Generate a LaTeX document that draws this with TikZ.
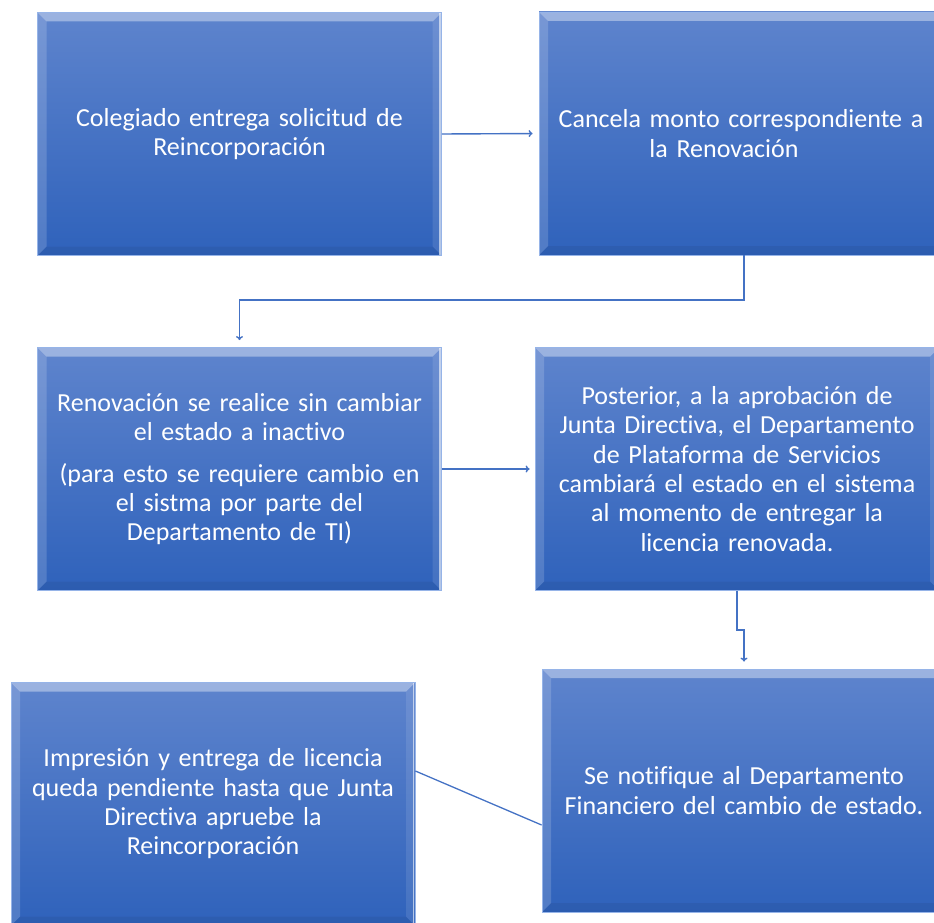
\documentclass[tikz,border=0pt]{standalone}
\usepackage{fontspec}
\setmainfont{Carlito}[Ligatures=NoCommon]
\usetikzlibrary{arrows.meta}
\definecolor{connc}{RGB}{68,114,196}
\definecolor{boxtop}{RGB}{94,132,205}
\definecolor{boxbot}{RGB}{47,98,187}
\definecolor{bevedge}{RGB}{150,180,232}
\tikzset{
  flowbox/.style={rectangle, inner sep=0pt, minimum width=404pt, minimum height=243pt,
    top color=boxtop, bottom color=boxbot, draw=bevedge, line width=0.8pt,
    text=white, font=\fontsize{26}{29.3}\selectfont, align=center, text width=400pt,
    path picture={
      \fill[white, opacity=0.38] (path picture bounding box.north west) -- (path picture bounding box.north east)
        -- ([xshift=-9pt,yshift=-9pt]path picture bounding box.north east) -- ([xshift=9pt,yshift=-9pt]path picture bounding box.north west) -- cycle;
      \fill[white, opacity=0.16] (path picture bounding box.north west) -- ([xshift=9pt,yshift=-9pt]path picture bounding box.north west)
        -- ([xshift=9pt,yshift=9pt]path picture bounding box.south west) -- (path picture bounding box.south west) -- cycle;
      \fill[white, opacity=0.10] (path picture bounding box.north east) -- ([xshift=-9pt,yshift=-9pt]path picture bounding box.north east)
        -- ([xshift=-9pt,yshift=9pt]path picture bounding box.south east) -- (path picture bounding box.south east) -- cycle;
      \fill[black, opacity=0.06] (path picture bounding box.south west) -- ([xshift=9pt,yshift=9pt]path picture bounding box.south west)
        -- ([xshift=-9pt,yshift=9pt]path picture bounding box.south east) -- (path picture bounding box.south east) -- cycle;
      \draw[white, opacity=0.6, line width=1.5pt] ([xshift=-1.5pt]path picture bounding box.north east) -- ([xshift=-1.5pt]path picture bounding box.south east);
    }},
  connarrow/.style={draw=connc, line width=1.4pt, -{To[length=4pt,width=7pt]}},
  connline/.style={draw=connc, line width=1.3pt}
}
\begin{document}
\begin{tikzpicture}[x=1pt,y=-1pt]
\useasboundingbox (0,0) rectangle (934,923);
\clip (0,0) rectangle (934,923);
\node[flowbox] (b1) at (239.5,134) {Colegiado entrega solicitud de\\Reincorporación};
\node[flowbox] (b2) at (741,133.5) {Cancela monto correspondiente a\\la Renovación\hspace*{34pt}};
\node[flowbox] (b3) at (239.5,469) {Renovación se realice sin cambiar\\el estado a inactivo\\[12.5pt](para esto se requiere cambio en\\el sistma por parte del\\Departamento de TI)};
\node[flowbox] (b4) at (737,469) {Posterior, a la aprobación de\\Junta Directiva, el Departamento\\de Plataforma de Servicios\\cambiará el estado en el sistema\\al momento de entregar la\\licencia renovada.};
\node[flowbox] (b5) at (744,790.5) {Se notifique al Departamento\\Financiero del cambio de estado.};
\node[flowbox] (b6) at (213,804) {Impresión y entrega de licencia\\queda pendiente hasta que Junta\\Directiva apruebe la\\Reincorporación};
\coordinate (k1) at (744,300);
\coordinate (k2) at (737,630);
\coordinate (k3) at (744,630);
\draw[connarrow, shorten >=6pt] (b1.east) -- (b2.west);
\draw[connarrow, shorten >=7pt] ([xshift=3pt]b2.south) -- (k1) -| (b3.north);
\draw[connarrow, shorten >=5pt] (b3.east) -- (b4.west);
\draw[connarrow, shorten >=7pt] (b4.south) -- (k2) -- (k3) -- (b5.north);
\draw[connline] ([yshift=33pt]b6.east) -- ([yshift=-34.5pt]b5.west);
\end{tikzpicture}
\end{document}
